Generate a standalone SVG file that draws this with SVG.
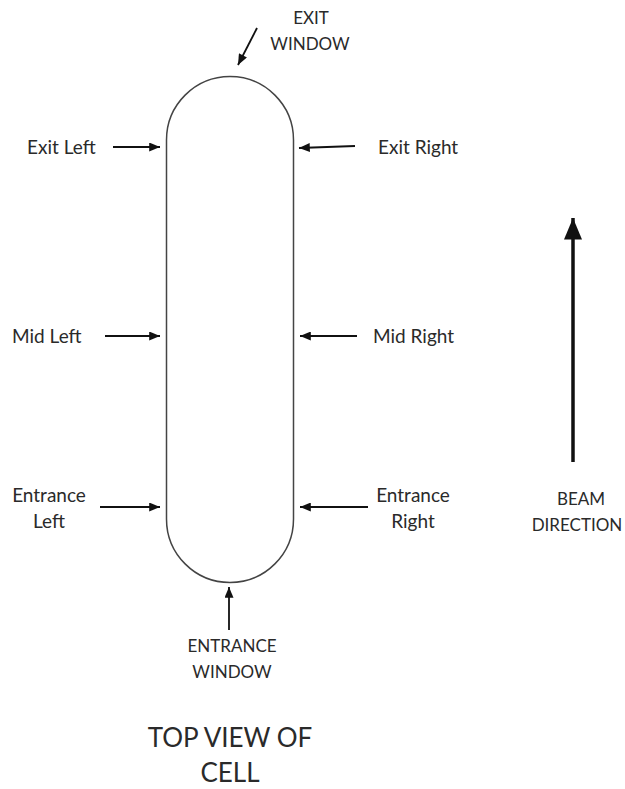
<svg xmlns="http://www.w3.org/2000/svg" width="625" height="789" viewBox="0 0 625 789">
<defs>
<marker id="ah" viewBox="0 0 12 10" refX="12" refY="5" markerWidth="13" markerHeight="9" markerUnits="userSpaceOnUse" orient="auto">
<path d="M0,0 L12,5 L0,10 z" fill="#111"/>
</marker>
<marker id="ahb" viewBox="0 0 12 10" refX="12" refY="5" markerWidth="22" markerHeight="18" markerUnits="userSpaceOnUse" orient="auto">
<path d="M0,0 L12,5 L0,10 z" fill="#111"/>
</marker>
</defs>
<style>
text{font-family:Lato,"Liberation Sans",sans-serif;font-size:17px;fill:#2a2a2a;}
.m{font-size:19px;}
.big{font-size:26px;}
.c{text-anchor:middle;}
.arr{stroke:#111;stroke-width:1.8;fill:none;marker-end:url(#ah);}
</style>
<rect width="625" height="789" fill="#fff"/>
<g id="cell">
<rect x="166.5" y="76.5" width="127" height="506" rx="63.5" ry="63.5" fill="none" stroke="#444" stroke-width="1.5"/>
</g>
<g id="connectors">
<line class="arr" x1="257" y1="28" x2="238" y2="65"/>
<line class="arr" x1="113" y1="147" x2="160" y2="147"/>
<line class="arr" x1="355" y1="146" x2="299" y2="148"/>
<line class="arr" x1="105" y1="336" x2="160" y2="336"/>
<line class="arr" x1="357" y1="336" x2="300" y2="336"/>
<line class="arr" x1="100" y1="507" x2="160" y2="507"/>
<line class="arr" x1="368" y1="507" x2="300" y2="507"/>
<line class="arr" x1="229" y1="630" x2="229" y2="587"/>
<line x1="573" y1="462" x2="573" y2="218" stroke="#111" stroke-width="3.5" marker-end="url(#ahb)"/>
</g>
<g id="exit-window"><text class="c" x="311" y="24">EXIT</text><text class="c" x="310" y="50">WINDOW</text></g>
<g id="exit-left"><text class="m" x="27" y="154">Exit Left</text></g>
<g id="exit-right"><text class="m" x="378" y="154">Exit Right</text></g>
<g id="mid-left"><text class="m" x="12" y="343">Mid Left</text></g>
<g id="mid-right"><text class="m" x="373" y="343">Mid Right</text></g>
<g id="entrance-left"><text class="c m" x="49" y="502">Entrance</text><text class="c m" x="49" y="528">Left</text></g>
<g id="entrance-right"><text class="c m" x="413" y="502">Entrance</text><text class="c m" x="413" y="528">Right</text></g>
<g id="entrance-window"><text class="c" x="232" y="652">ENTRANCE</text><text class="c" x="232" y="678">WINDOW</text></g>
<g id="beam-direction"><text class="c" x="581" y="505">BEAM</text><text class="c" x="577" y="531">DIRECTION</text></g>
<g id="title"><text class="c big" x="230" y="747">TOP VIEW OF</text><text class="c big" x="230" y="782">CELL</text></g>
</svg>
